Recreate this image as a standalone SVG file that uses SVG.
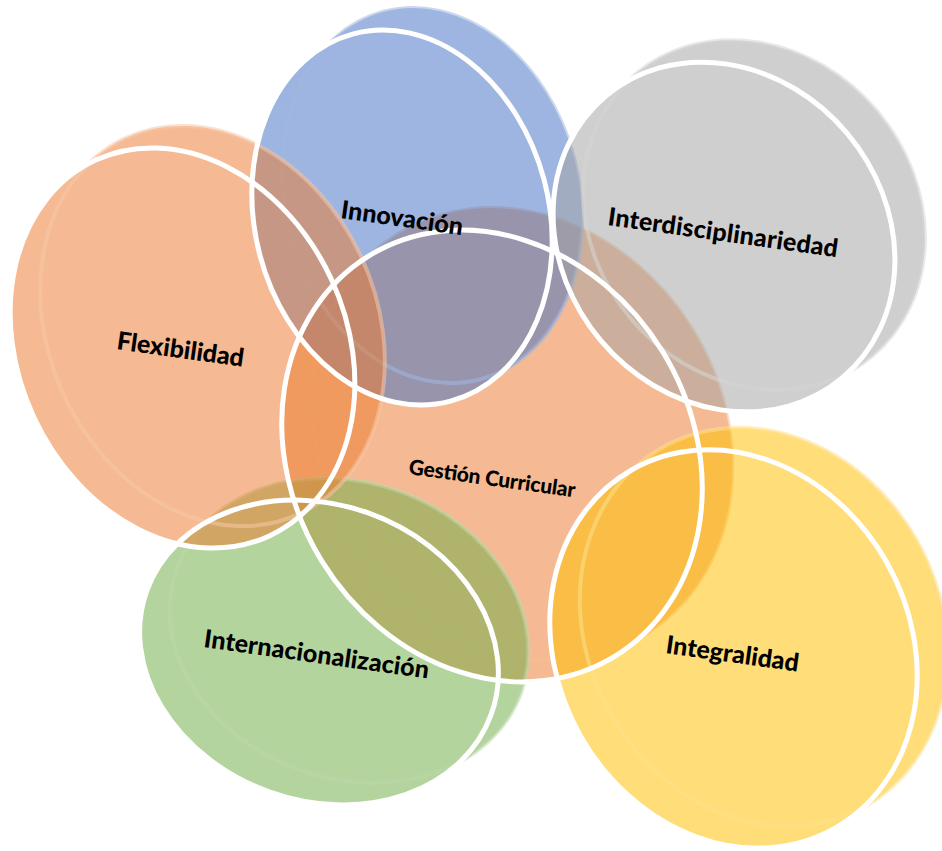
<svg xmlns="http://www.w3.org/2000/svg" xmlns:xlink="http://www.w3.org/1999/xlink" width="942" height="851" viewBox="0 0 942 851">
  <style>
    .sweep { opacity: 0.52; }
    .back { fill: none; stroke-width: 4; opacity: 0.55; }
    .outline { fill: none; stroke: #ffffff; stroke-width: 5; }
    .label { font-family: Lato, "Open Sans", "Liberation Sans", sans-serif; font-weight: 900; fill: #000000; }
  </style>
  <defs>
    <ellipse id="e-gestion" cx="492" cy="456" rx="200" ry="235" transform="rotate(-31.7 492 456)"/>
    <ellipse id="e-innovacion" cx="402" cy="217.5" rx="147" ry="190" transform="rotate(-14.8 402 217.5)"/>
    <ellipse id="e-interdisc" cx="724" cy="237" rx="161" ry="184" transform="rotate(-40.1 724 237)"/>
    <ellipse id="e-integralidad" cx="733.5" cy="649" rx="176" ry="206" transform="rotate(-29.4 733.5 649)"/>
    <ellipse id="e-internac" cx="319" cy="652.5" rx="183" ry="148" transform="rotate(19.7 319 652.5)"/>
    <ellipse id="e-flex" cx="182.5" cy="348" rx="164" ry="207" transform="rotate(-24.8 182.5 348)"/>
  </defs>
  <rect width="942" height="851" fill="#ffffff"/>

  <g id="node-gestion-curricular">
    <g class="sweep" fill="#ED7D31">
      <use xlink:href="#e-gestion"/><use xlink:href="#e-gestion" x="3" y="-2.2"/><use xlink:href="#e-gestion" x="6" y="-4.4"/><use xlink:href="#e-gestion" x="9" y="-6.6"/><use xlink:href="#e-gestion" x="12" y="-8.8"/><use xlink:href="#e-gestion" x="15" y="-11"/><use xlink:href="#e-gestion" x="18" y="-13.2"/><use xlink:href="#e-gestion" x="21" y="-15.4"/><use xlink:href="#e-gestion" x="24" y="-17.6"/><use xlink:href="#e-gestion" x="27" y="-19.8"/><use xlink:href="#e-gestion" x="30" y="-22"/>
    </g>
    <use xlink:href="#e-gestion" x="30" y="-22" class="back" stroke="#F6BE98"/>
  </g>

  <g id="node-innovacion">
    <g class="sweep" fill="#4472C4">
      <use xlink:href="#e-innovacion"/><use xlink:href="#e-innovacion" x="3" y="-2.2"/><use xlink:href="#e-innovacion" x="6" y="-4.4"/><use xlink:href="#e-innovacion" x="9" y="-6.6"/><use xlink:href="#e-innovacion" x="12" y="-8.8"/><use xlink:href="#e-innovacion" x="15" y="-11"/><use xlink:href="#e-innovacion" x="18" y="-13.2"/><use xlink:href="#e-innovacion" x="21" y="-15.4"/><use xlink:href="#e-innovacion" x="24" y="-17.6"/><use xlink:href="#e-innovacion" x="27" y="-19.8"/><use xlink:href="#e-innovacion" x="30" y="-22"/>
    </g>
    <use xlink:href="#e-innovacion" x="30" y="-22" class="back" stroke="#A1B8E1"/>
  </g>

  <g id="node-interdisciplinariedad">
    <g class="sweep" fill="#A5A5A5">
      <use xlink:href="#e-interdisc"/><use xlink:href="#e-interdisc" x="3" y="-2.2"/><use xlink:href="#e-interdisc" x="6" y="-4.4"/><use xlink:href="#e-interdisc" x="9" y="-6.6"/><use xlink:href="#e-interdisc" x="12" y="-8.8"/><use xlink:href="#e-interdisc" x="15" y="-11"/><use xlink:href="#e-interdisc" x="18" y="-13.2"/><use xlink:href="#e-interdisc" x="21" y="-15.4"/><use xlink:href="#e-interdisc" x="24" y="-17.6"/><use xlink:href="#e-interdisc" x="27" y="-19.8"/><use xlink:href="#e-interdisc" x="30" y="-22"/>
    </g>
    <use xlink:href="#e-interdisc" x="30" y="-22" class="back" stroke="#D6D6D6"/>
  </g>

  <g id="node-integralidad">
    <g class="sweep" fill="#FFC000">
      <use xlink:href="#e-integralidad"/><use xlink:href="#e-integralidad" x="3" y="-2.2"/><use xlink:href="#e-integralidad" x="6" y="-4.4"/><use xlink:href="#e-integralidad" x="9" y="-6.6"/><use xlink:href="#e-integralidad" x="12" y="-8.8"/><use xlink:href="#e-integralidad" x="15" y="-11"/><use xlink:href="#e-integralidad" x="18" y="-13.2"/><use xlink:href="#e-integralidad" x="21" y="-15.4"/><use xlink:href="#e-integralidad" x="24" y="-17.6"/><use xlink:href="#e-integralidad" x="27" y="-19.8"/><use xlink:href="#e-integralidad" x="30" y="-22"/>
    </g>
    <use xlink:href="#e-integralidad" x="30" y="-22" class="back" stroke="#FFE08A"/>
  </g>

  <g id="node-internacionalizacion">
    <g class="sweep" fill="#70AD47">
      <use xlink:href="#e-internac"/><use xlink:href="#e-internac" x="3" y="-2.2"/><use xlink:href="#e-internac" x="6" y="-4.4"/><use xlink:href="#e-internac" x="9" y="-6.6"/><use xlink:href="#e-internac" x="12" y="-8.8"/><use xlink:href="#e-internac" x="15" y="-11"/><use xlink:href="#e-internac" x="18" y="-13.2"/><use xlink:href="#e-internac" x="21" y="-15.4"/><use xlink:href="#e-internac" x="24" y="-17.6"/><use xlink:href="#e-internac" x="27" y="-19.8"/><use xlink:href="#e-internac" x="30" y="-22"/>
    </g>
    <use xlink:href="#e-internac" x="30" y="-22" class="back" stroke="#BBD9A8"/>
  </g>

  <g id="node-flexibilidad">
    <g class="sweep" fill="#ED7D31">
      <use xlink:href="#e-flex"/><use xlink:href="#e-flex" x="3" y="-2.2"/><use xlink:href="#e-flex" x="6" y="-4.4"/><use xlink:href="#e-flex" x="9" y="-6.6"/><use xlink:href="#e-flex" x="12" y="-8.8"/><use xlink:href="#e-flex" x="15" y="-11"/><use xlink:href="#e-flex" x="18" y="-13.2"/><use xlink:href="#e-flex" x="21" y="-15.4"/><use xlink:href="#e-flex" x="24" y="-17.6"/><use xlink:href="#e-flex" x="27" y="-19.8"/><use xlink:href="#e-flex" x="30" y="-22"/>
    </g>
    <use xlink:href="#e-flex" x="30" y="-22" class="back" stroke="#F8C7A6"/>
  </g>

  <g id="outlines">
    <use xlink:href="#e-gestion" class="outline"/>
    <use xlink:href="#e-innovacion" class="outline"/>
    <use xlink:href="#e-interdisc" class="outline"/>
    <use xlink:href="#e-integralidad" class="outline"/>
    <use xlink:href="#e-internac" class="outline"/>
    <use xlink:href="#e-flex" class="outline"/>
  </g>

  <g id="labels">
    <text class="label" font-size="25" transform="translate(340 218) rotate(8)" textLength="123">Innovación</text>
    <text class="label" font-size="25" transform="translate(116 349) rotate(8)" textLength="128">Flexibilidad</text>
    <text class="label" font-size="25" transform="translate(607 225) rotate(8)" textLength="232">Interdisciplinariedad</text>
    <text class="label" font-size="21" transform="translate(408 474) rotate(8)" textLength="168">Gestión Curricular</text>
    <text class="label" font-size="25" transform="translate(203 647) rotate(8)" textLength="227">Internacionalización</text>
    <text class="label" font-size="25" transform="translate(665 653) rotate(8)" textLength="134">Integralidad</text>
  </g>
</svg>
